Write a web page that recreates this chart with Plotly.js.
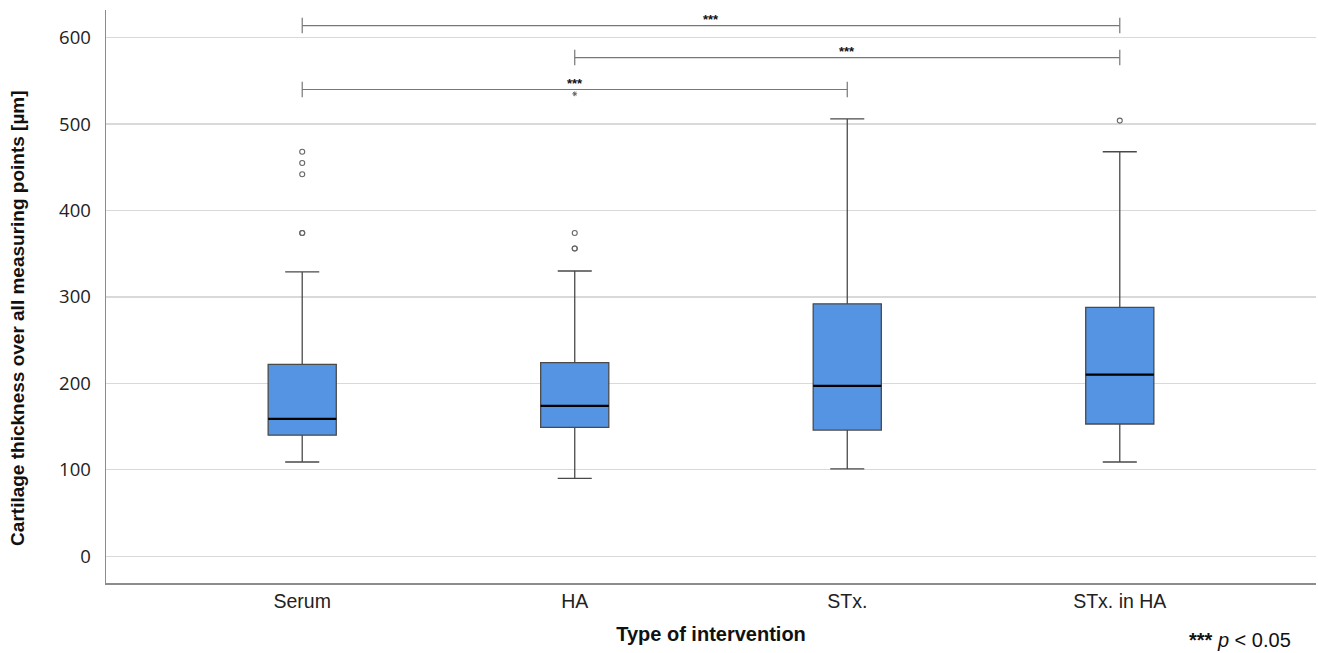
<!DOCTYPE html>
<html>
<head>
<meta charset="utf-8">
<script src="https://cdn.plot.ly/plotly-3.0.1.min.js"></script>
<style>html,body{margin:0;padding:0;background:#fff;}#chart{width:1318px;height:653px;}</style>
</head>
<body>
<div id="chart"></div>
<script>
const categories = ["Serum", "HA", "STx.", "STx. in HA"];
const lowerWhisker = [109, 90, 101, 109];
const q1 = [140, 149, 146, 153];
const median = [159, 174, 197, 210];
const q3 = [222, 224, 292, 288];
const upperWhisker = [329, 330, 506, 468];
// outliers (circles)
const outlierGroup = ["Serum", "Serum", "Serum", "Serum", "Serum", "HA", "HA", "HA", "STx. in HA"];
const outlierValue = [468, 455, 442, 374, 374, 374, 356, 356, 504];
// extreme outliers (asterisk)
const extremeGroup = ["HA"];
const extremeValue = [535];
// significance comparisons: [from index, to index, bracket level, label]
const compFrom = [0, 1, 0];
const compTo = [3, 3, 2];
const compLevel = [614, 577, 540];
const compLabel = ["***", "***", "***"];

const traces = [
  {
    type: "box",
    x: categories,
    q1: q1, median: median, q3: q3,
    lowerfence: lowerWhisker, upperfence: upperWhisker,
    width: 0.25,
    whiskerwidth: 0.5,
    fillcolor: "#5594e3",
    line: {color: "#4a4a4a", width: 1.3},
    boxpoints: false,
    showlegend: false,
    hoverinfo: "skip"
  },
  {
    type: "box",
    x: categories,
    q1: median, median: median, q3: median,
    lowerfence: median, upperfence: median,
    width: 0.25,
    whiskerwidth: 0,
    fillcolor: "rgba(0,0,0,0)",
    line: {color: "#000000", width: 2.2},
    boxpoints: false,
    showlegend: false,
    hoverinfo: "skip"
  },
  {
    type: "scatter", mode: "markers",
    x: outlierGroup, y: outlierValue,
    marker: {symbol: "circle-open", size: 5, color: "#666", line: {width: 1.1, color: "#666"}},
    showlegend: false, hoverinfo: "skip"
  },
  {
    type: "scatter", mode: "markers",
    x: extremeGroup, y: extremeValue,
    marker: {symbol: "asterisk-open", size: 4, color: "#666", line: {width: 1, color: "#666"}},
    showlegend: false, hoverinfo: "skip"
  }
];

const shapes = [];
const annotations = [];
const tickHalf = 9;
for (let i = 0; i < compFrom.length; i++) {
  const a = compFrom[i], b = compTo[i], lv = compLevel[i];
  const ln = {color: "#777", width: 1.2};
  shapes.push({type: "line", xref: "x", yref: "y", x0: a, x1: b, y0: lv, y1: lv, line: ln});
  shapes.push({type: "line", xref: "x", yref: "y", x0: a, x1: a, y0: lv - tickHalf, y1: lv + tickHalf, line: ln});
  shapes.push({type: "line", xref: "x", yref: "y", x0: b, x1: b, y0: lv - tickHalf, y1: lv + tickHalf, line: ln});
  annotations.push({xref: "x", yref: "y", x: (a + b) / 2, y: lv, yanchor: "bottom", yshift: -3,
    text: "<b>" + compLabel[i] + "</b>", showarrow: false,
    font: {family: "Liberation Sans, Arial, sans-serif", size: 13, color: "#111"}});
}
annotations.push({xref: "paper", yref: "paper", x: 0.981, y: -0.1, xanchor: "right", yanchor: "middle",
  text: "<b>***</b> <i>p</i> < 0.05", showarrow: false,
  font: {family: "Liberation Sans, Arial, sans-serif", size: 20, color: "#111"}});
// y-axis title (positioned as in the reference)
annotations.push({xref: "paper", yref: "paper", x: -0.0727, y: 0.461, xanchor: "center", yanchor: "middle",
  textangle: -90, showarrow: false,
  text: "<b>Cartilage thickness over all measuring points [µm]</b>",
  font: {family: "Liberation Sans, Arial, sans-serif", size: 19, color: "#111"}});

const layout = {
  width: 1318, height: 653,
  margin: {l: 106, r: 2, t: 10, b: 70},
  paper_bgcolor: "#fff", plot_bgcolor: "#fff",
  xaxis: {
    type: "category",
    range: [-0.72, 3.72],
    showgrid: false, zeroline: false,
    showline: true, linecolor: "#8c8c8c", linewidth: 1.5,
    ticks: "",
    tickfont: {family: "Liberation Sans, Arial, sans-serif", size: 19.5, color: "#222"},
    title: {text: "<b>Type of intervention</b>", standoff: 16,
      font: {family: "Liberation Sans, Arial, sans-serif", size: 20, color: "#111"}},
    fixedrange: true
  },
  yaxis: {
    range: [-31, 632],
    tickvals: [0, 100, 200, 300, 400, 500, 600],
    showgrid: true, gridcolor: "#d9d9d9", gridwidth: 1.3,
    zeroline: false,
    showline: true, linecolor: "#8c8c8c", linewidth: 1.5,
    ticks: "",
    ticklabelstandoff: 10,
    tickfont: {family: "Open Sans, Noto Sans, sans-serif", size: 18.5, color: "#222"},
    fixedrange: true
  },
  shapes: shapes,
  annotations: annotations,
  showlegend: false
};

Plotly.newPlot("chart", traces, layout, {staticPlot: true, displayModeBar: false});
</script>
</body>
</html>
